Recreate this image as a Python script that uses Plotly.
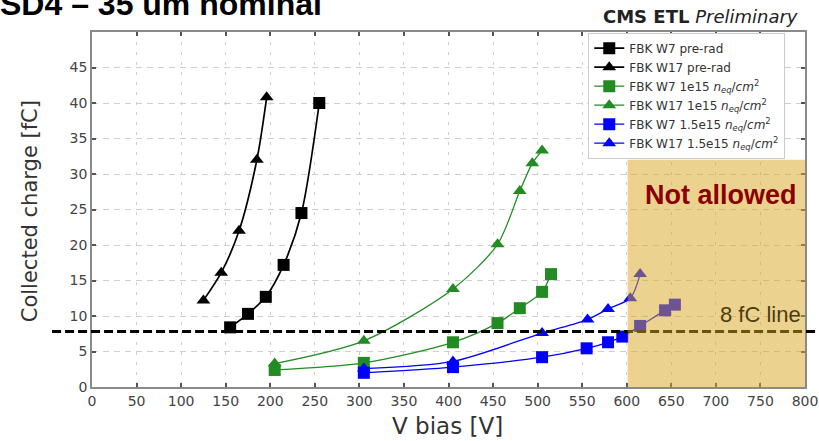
import plotly.graph_objects as go

# ---- data ----
w7_pre_v = [155, 175, 195, 215, 235, 255]
w7_pre_q = [8.4, 10.3, 12.7, 17.2, 24.5, 40.0]

w17_pre_v = [125, 145, 165, 185, 196]
w17_pre_q = [12.2, 16.1, 22.0, 32.0, 40.8]

w7_1e15_v = [205, 305, 405, 455, 480, 505, 515]
w7_1e15_q = [2.4, 3.4, 6.3, 9.0, 11.1, 13.4, 15.9]

w17_1e15_v = [205, 305, 405, 455, 480, 494, 505]
w17_1e15_q = [3.3, 6.5, 13.8, 20.1, 27.6, 31.5, 33.3]

w7_15e15_v = [305, 405, 505, 555, 579, 595, 615, 643, 654]
w7_15e15_q = [2.0, 2.8, 4.2, 5.45, 6.3, 7.1, 8.6, 10.8, 11.6]

w17_15e15_v = [305, 405, 505, 556, 579, 604, 615]
w17_15e15_q = [2.6, 3.6, 7.6, 9.5, 11.0, 12.5, 15.9]

series_names = [
    "FBK W7 pre-rad",
    "FBK W17 pre-rad",
    "FBK W7 1e15 <i>n<sub>eq</sub></i>/<i>cm</i><sup>2</sup>",
    "FBK W17 1e15 <i>n<sub>eq</sub></i>/<i>cm</i><sup>2</sup>",
    "FBK W7 1.5e15 <i>n<sub>eq</sub></i>/<i>cm</i><sup>2</sup>",
    "FBK W17 1.5e15 <i>n<sub>eq</sub></i>/<i>cm</i><sup>2</sup>",
]

x_ticks = list(range(0, 801, 50))
y_ticks = list(range(0, 46, 5))

fc_line_value = 7.8          # "8 fC line"
not_allowed_v = [601, 800]   # shaded V range
not_allowed_q = [0, 32]      # shaded charge range

# ---- figure ----
fig = go.Figure()

series = [
    (w7_pre_v, w7_pre_q, "black", "square", 1.7),
    (w17_pre_v, w17_pre_q, "black", "triangle-up", 1.7),
    (w7_1e15_v, w7_1e15_q, "#228b22", "square", 1.3),
    (w17_1e15_v, w17_1e15_q, "#228b22", "triangle-up", 1.3),
    (w7_15e15_v, w7_15e15_q, "#0000ff", "square", 1.3),
    (w17_15e15_v, w17_15e15_q, "#0000ff", "triangle-up", 1.3),
]
for (xv, yv, col, sym, lw), name in zip(series, series_names):
    fig.add_trace(go.Scatter(
        x=xv, y=yv, name=name, mode="lines+markers",
        line=dict(color=col, width=lw, shape="spline", smoothing=0.8),
        marker=dict(symbol=sym, size=12, color=col),
    ))

# 8 fC dashed line (drawn first, so the shaded band covers it)
fig.add_shape(type="line", xref="paper", yref="y",
              x0=-0.056, x1=1.03, y0=fc_line_value, y1=fc_line_value,
              line=dict(color="black", width=3, dash="9px,4px"), layer="above")
# Not allowed band
fig.add_shape(type="rect", xref="x", yref="y",
              x0=not_allowed_v[0], x1=not_allowed_v[1],
              y0=not_allowed_q[0], y1=not_allowed_q[1],
              fillcolor="rgba(218,165,32,0.5)", line=dict(width=0), layer="above")

fig.add_annotation(text="<b>Not allowed</b>", xref="paper", yref="paper",
                   x=0.992, y=0.541, xanchor="right", yanchor="middle", showarrow=False,
                   font=dict(family="Liberation Sans", size=27, color="#8b0000"))
fig.add_annotation(text="8 fC line", xref="paper", yref="paper",
                   x=0.997, y=0.203, xanchor="right", yanchor="middle", showarrow=False,
                   font=dict(family="Liberation Sans", size=22, color="#4d3d10"))
fig.add_annotation(text="<b>CMS ETL</b> <i>Preliminary</i>", xref="paper", yref="paper",
                   x=0.993, y=1.045, xanchor="right", yanchor="middle", showarrow=False,
                   font=dict(family="DejaVu Sans", size=18, color="#222"))
fig.add_annotation(text="Collected charge [fC]", xref="paper", yref="paper",
                   x=-0.087, y=0.495, xanchor="center", yanchor="middle", showarrow=False,
                   textangle=-90, font=dict(family="DejaVu Sans", size=21, color="#333"))
fig.add_annotation(text="V bias [V]", xref="paper", yref="paper",
                   x=0.499, y=-0.110, xanchor="center", yanchor="middle", showarrow=False,
                   font=dict(family="DejaVu Sans", size=23, color="#333"))

axis_common = dict(
    showline=True, linecolor="#8a8a8a", linewidth=1.5, mirror="ticks",
    ticks="inside", ticklen=4, tickcolor="#555", tickwidth=1.5,
    showgrid=True, gridcolor="#cfcfcf", gridwidth=1,
    zeroline=False, automargin=False,
    tickfont=dict(family="DejaVu Sans", size=14, color="#444"),
)

fig.update_xaxes(range=[0, 800], tickvals=x_ticks, griddash="3px,7px", **axis_common)
fig.update_yaxes(range=[0, 50], tickvals=y_ticks, griddash="6px,5px", **axis_common)

fig.update_layout(
    width=819, height=441,
    margin=dict(l=92, r=14, t=32, b=54),
    paper_bgcolor="white", plot_bgcolor="white",
    title=dict(text="<b>SD4 – 35 um nominal</b>", xref="container", yref="container",
               x=0.0, y=0.991, xanchor="left", yanchor="middle", automargin=False,
               font=dict(family="Liberation Sans", size=32, color="black")),
    legend=dict(x=0.696, y=0.998, xanchor="left", yanchor="top",
                bgcolor="white", bordercolor="#cccccc", borderwidth=1,
                font=dict(family="DejaVu Sans", size=12, color="#333")),
)

fig.write_html(
    "out.html",
    config={"displayModeBar": False, "responsive": False},
    post_script="document.body.style.margin='0px';document.body.style.overflow='hidden';",
)
